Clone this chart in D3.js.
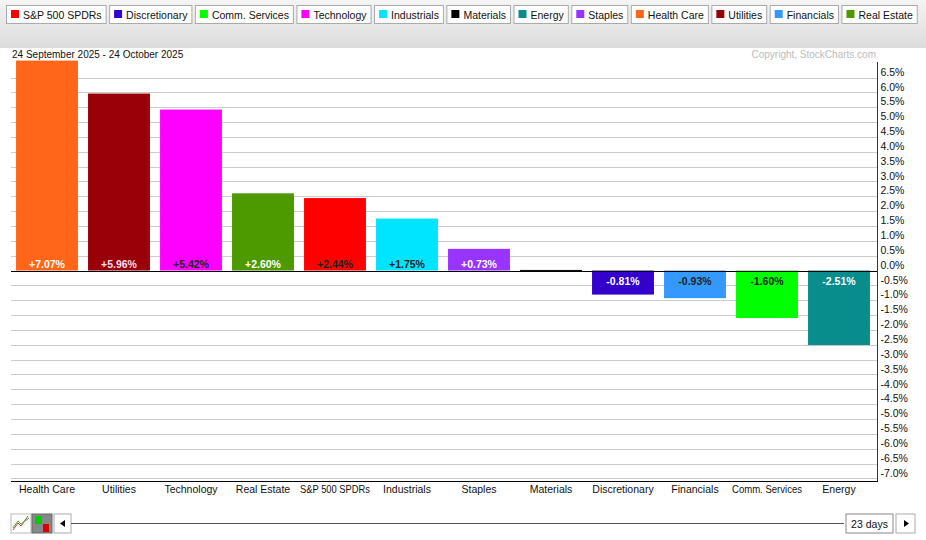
<!DOCTYPE html>
<html><head><meta charset="utf-8">
<script src="https://cdn.jsdelivr.net/npm/d3@7"></script>
<style>body{margin:0;background:#fff;font-family:"Liberation Sans",Arial,sans-serif}</style>
</head><body><svg id="c" width="926" height="540"></svg>
<script>
const legendNames = ["S&P 500 SPDRs","Discretionary","Comm. Services","Technology","Industrials","Materials","Energy","Staples","Health Care","Utilities","Financials","Real Estate"];
const legendColors = ["#ff0000","#3300cc","#00ff00","#ff00ff","#00e5ff","#000000","#088c8c","#9933ff","#ff6619","#990008","#3399ff","#4c9900"];
const categories = ["Health Care","Utilities","Technology","Real Estate","S&P 500 SPDRs","Industrials","Staples","Materials","Discretionary","Financials","Comm. Services","Energy"];
const values = [7.07,5.96,5.42,2.60,2.44,1.75,0.73,0.02,-0.81,-0.93,-1.60,-2.51];
const labelColors = ["#fff","#fde","#222","#fff","#222","#222","#fff","#000","#fff","#222","#222","#fff"];
const yTicks = d3.range(-7.0, 6.51, 0.5);

const svg = d3.select("#c");
const g0 = svg.append("defs").append("linearGradient").attr("id","hg").attr("x1",0).attr("x2",0).attr("y1",0).attr("y2",1);
g0.append("stop").attr("offset","0").attr("stop-color","#f4f4f4");
g0.append("stop").attr("offset","1").attr("stop-color","#dcdcdc");
svg.append("rect").attr("x",0).attr("y",0).attr("width",926).attr("height",48).attr("fill","url(#hg)");
let lx = 6;
legendNames.forEach((n,i)=>{
  const t = svg.append("text").attr("x",lx+17).attr("y",18.5).attr("font-size",10.5).attr("fill","#111").text(n);
  const w = t.node().getComputedTextLength()+21;
  svg.insert("rect","text").attr("x",lx+0.5).attr("y",5.5).attr("width",w).attr("height",18).attr("fill","#fff").attr("stroke","#aaa");
  svg.append("rect").attr("x",lx+5).attr("y",10).attr("width",8).attr("height",8).attr("fill",legendColors[i]);
  t.raise();
  lx += w+3.5;
});
svg.append("text").attr("x",12).attr("y",58).attr("font-size",10).attr("fill","#111").text("24 September 2025 - 24 October 2025");
svg.append("text").attr("x",876).attr("y",58).attr("font-size",10).attr("text-anchor","end").attr("fill","#bbb").text("Copyright, StockCharts.com");

const x = d3.scaleBand().domain(categories).range([11,875]).paddingInner(0.14).paddingOuter(0.07);
const y = d3.scaleLinear().domain([-7.0,6.5]).range([478.4,77.5]);
svg.append("g").selectAll("line").data(yTicks).join("line")
  .attr("x1",11).attr("x2",877).attr("y1",d=>Math.round(y(d))+0.5).attr("y2",d=>Math.round(y(d))+0.5)
  .attr("stroke","#ccc");
svg.append("g").selectAll("rect").data(values).join("rect")
  .attr("x",(d,i)=>x(categories[i])).attr("width",x.bandwidth())
  .attr("y",d=>y(Math.max(0,d))).attr("height",d=>Math.max(1,Math.abs(y(d)-y(0))))
  .attr("fill",(d,i)=>legendColors[legendNames.indexOf(categories[i])]);
svg.append("g").selectAll("text").data(values).join("text")
  .attr("x",(d,i)=>x(categories[i])+x.bandwidth()/2)
  .attr("y",d=>d>=0?y(0)-2.5:y(0)+14)
  .attr("text-anchor","middle").attr("font-size",10.5).attr("font-weight","bold")
  .attr("fill",(d,i)=>labelColors[i])
  .text(d=>Math.abs(d)<0.1?"":(d>0?"+":"")+d.toFixed(2)+"%");
svg.append("line").attr("x1",11).attr("x2",877).attr("y1",Math.round(y(0))+0.5).attr("y2",Math.round(y(0))+0.5).attr("stroke","#000");
const ay = svg.append("g").attr("transform","translate(877.5,0)").call(d3.axisRight(y).tickValues(yTicks).tickSize(0).tickFormat(d=>d.toFixed(1)+"%"));
ay.select(".domain").attr("stroke","#333").attr("d","M0,62V481");
ay.selectAll("text").attr("font-family","Liberation Sans").attr("font-size",10.5).attr("fill","#111").attr("x",3).attr("dy","-0.22em");
const ax = svg.append("g").attr("transform","translate(0,481.5)").call(d3.axisBottom(x).tickSize(0));
ax.select(".domain").attr("stroke","#000").attr("d","M11,0H878");
ax.selectAll("text").attr("font-family","Liberation Sans").attr("font-size",10.5).attr("fill","#111").attr("dy","0.85em");
ax.selectAll("text").each(function(){const w=this.getComputedTextLength(); if(w>70) d3.select(this).attr("textLength",70).attr("lengthAdjust","spacingAndGlyphs");});
const b = svg.append("g");
b.append("rect").attr("x",11).attr("y",514).attr("width",20).attr("height",19).attr("fill","#fff").attr("stroke","#bbb");
b.append("path").attr("d","M13,530L18,523L21,526L28,516").attr("fill","none").attr("stroke","#e33");
b.append("path").attr("d","M13,528L18,521L21,524L29,518").attr("fill","none").attr("stroke","#3a3");
b.append("rect").attr("x",32).attr("y",514).attr("width",20).attr("height",19).attr("fill","#888").attr("stroke","#666");
b.append("rect").attr("x",35).attr("y",516).attr("width",7).attr("height",8).attr("fill","#0c0");
b.append("rect").attr("x",43).attr("y",524).attr("width",6).attr("height",8).attr("fill","#d00");
b.append("rect").attr("x",54).attr("y",514).attr("width",17).attr("height",19).attr("fill","#fff").attr("stroke","#aaa");
b.append("path").attr("d","M60,523.5L65,520V527Z").attr("fill","#000");
b.append("line").attr("x1",71).attr("x2",844).attr("y1",523.5).attr("y2",523.5).attr("stroke","#555");
b.append("rect").attr("x",846).attr("y",514).attr("width",47).attr("height",19).attr("fill","#fff").attr("stroke","#888");
b.append("text").attr("x",869.5).attr("y",527.5).attr("text-anchor","middle").attr("font-size",10.5).attr("fill","#111").text("23 days");
b.append("rect").attr("x",896).attr("y",514).attr("width",19).attr("height",19).attr("fill","#fff").attr("stroke","#aaa");
b.append("path").attr("d","M909,523.5L904,520V527Z").attr("fill","#000");
</script></body></html>
